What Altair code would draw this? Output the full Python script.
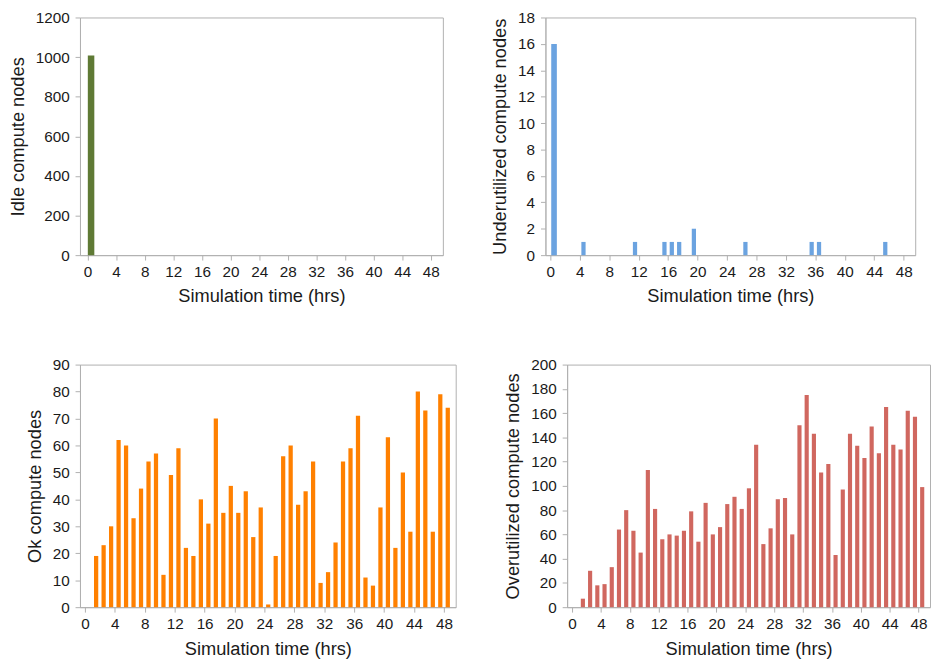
import altair as alt
import pandas as pd

hours = list(range(0, 49))

idle = [1008] + [0] * 48

under_hours = [0, 4, 11, 15, 16, 17, 19, 26, 35, 36, 45]
under_vals = [16, 1, 1, 1, 1, 1, 2, 1, 1, 1, 1]
under = [under_vals[under_hours.index(h)] if h in under_hours else 0 for h in hours]

ok = [0, 19, 23, 30, 62, 60, 33, 44, 54, 57, 12, 49, 59, 22, 19, 40, 31, 70, 35, 45,
      35, 43, 26, 37, 1, 19, 56, 60, 38, 43, 54, 9, 13, 24, 54, 59, 71, 11, 8, 37,
      63, 22, 50, 28, 80, 73, 28, 79, 74]

over = [0, 7, 30, 18, 19, 33, 64, 80, 63, 45, 113, 81, 56, 60, 59, 63, 79, 54, 86, 60,
        66, 85, 91, 81, 98, 134, 52, 65, 89, 90, 60, 150, 175, 143, 111, 118, 43, 97, 143, 133,
        123, 149, 127, 165, 134, 130, 162, 157, 99]

x_ticks = list(range(0, 49, 4))
x_title = "Simulation time (hrs)"

FONT = "Liberation Sans"
GRAY = "#b0b0b0"


def panel(values, ytitle, ymax, ystep, color, width, height, xdomain, bar_w, first_w):
    df = pd.DataFrame({"h": hours, "v": values})
    return (
        alt.Chart(df)
        .transform_calculate(hc="datum.h + 0.5")
        .mark_bar(color=color)
        .encode(
            x=alt.X(
                "hc:Q",
                scale=alt.Scale(domain=xdomain, nice=False, zero=False),
                axis=alt.Axis(values=x_ticks, title=x_title, format="d"),
            ),
            y=alt.Y(
                "v:Q",
                scale=alt.Scale(domain=[0, ymax], nice=False),
                axis=alt.Axis(values=list(range(0, ymax + 1, ystep)), title=ytitle, format="d"),
            ),
            size=alt.condition("datum.h == 0", alt.value(first_w), alt.value(bar_w)),
        )
        .properties(width=width, height=height)
    )


tl = panel(idle, "Idle compute nodes", 1200, 200, "#5f7a35", 368, 241, [-0.36, 49.0], 4.3, 6.6)
tr = panel(under, "Underutilized compute nodes", 18, 2, "#6ba3e0", 375, 241, [0, 48.9], 4.3, 5.7)
bl = panel(ok, "Ok compute nodes", 90, 10, "#ff8000", 381, 246, [0, 48.9], 4.3, 4.3)
br = panel(over, "Overutilized compute nodes", 200, 20, "#d0675f", 368, 246, [0, 48.9], 4.2, 4.2)

chart = (
    alt.vconcat(
        alt.hconcat(tl, tr, spacing=47),
        alt.hconcat(bl, br, spacing=47),
        spacing=51,
    )
    .properties(padding={"left": 0, "top": -3, "right": 0, "bottom": 0})
    .configure_view(stroke=GRAY, strokeWidth=1)
    .configure_axis(
        grid=False,
        domainColor=GRAY,
        tickColor=GRAY,
        tickSize=5,
        labelFont=FONT,
        titleFont=FONT,
        labelFontSize=15.5,
        titleFontSize=18.5,
        titleFontWeight="normal",
        labelColor="#1a1a1a",
        titleColor="#1a1a1a",
    )
    .configure_axisX(labelPadding=5, titlePadding=7)
    .configure_axisY(labelPadding=6, titlePadding=8)
)

chart.save("out.html", embed_options={"renderer": "svg", "actions": False})
